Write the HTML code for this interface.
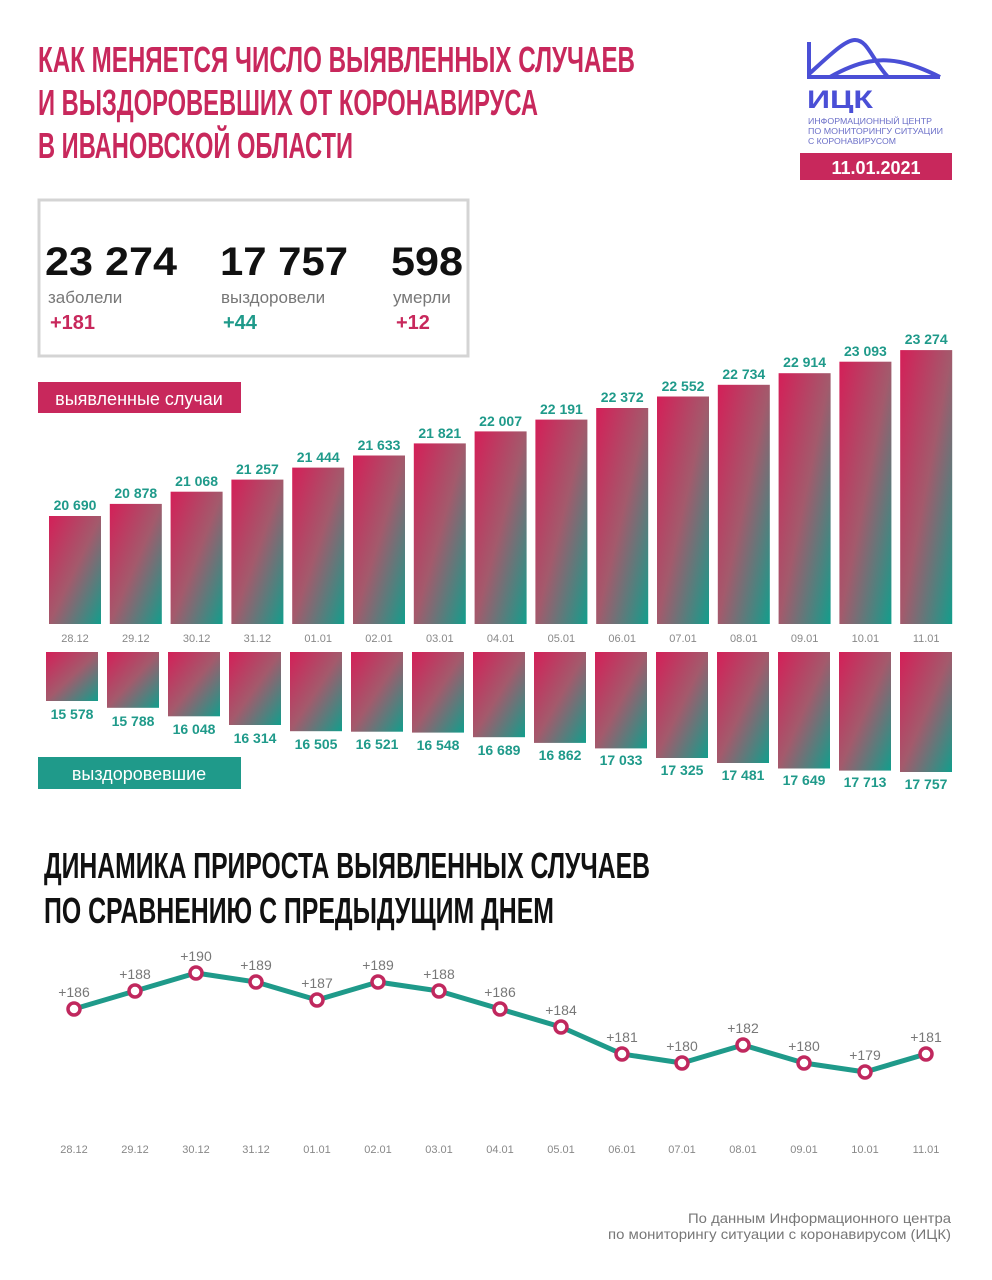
<!DOCTYPE html>
<html><head><meta charset="utf-8"><style>
html,body{margin:0;padding:0;background:#fff;}
svg{display:block;font-family:"Liberation Sans",sans-serif;}
</style></head><body>
<svg width="992" height="1280" viewBox="0 0 992 1280" xmlns="http://www.w3.org/2000/svg">
<defs>
<linearGradient id="g" x1="0" y1="0" x2="1" y2="1">
<stop offset="0" stop-color="#d41f58"/><stop offset="0.5" stop-color="#a35a6c"/><stop offset="1" stop-color="#129e8c"/>
</linearGradient>
</defs>
<g font-weight="bold" fill="#c8285c" font-size="36">
<text x="38" y="72" textLength="597" lengthAdjust="spacingAndGlyphs">КАК МЕНЯЕТСЯ ЧИСЛО ВЫЯВЛЕННЫХ СЛУЧАЕВ</text>
<text x="38" y="115" textLength="500" lengthAdjust="spacingAndGlyphs">И ВЫЗДОРОВЕВШИХ ОТ КОРОНАВИРУСА</text>
<text x="38" y="158" textLength="315" lengthAdjust="spacingAndGlyphs">В ИВАНОВСКОЙ ОБЛАСТИ</text>
</g>
<g fill="none" stroke="#4a4fd6" stroke-width="4">
<path d="M809 42 L809 77 L940 77"/>
<path d="M809 74 C830 55 845 40 855 40 C868 40 872 60 888 77"/>
<path d="M830 77 C860 60 880 58 900 62 C915 65 930 72 940 77"/>
</g>
<text x="807" y="108" font-size="25" font-weight="bold" fill="#4a4fd6" textLength="66" lengthAdjust="spacingAndGlyphs">ИЦК</text>
<g font-size="8.5" fill="#6b6fc8">
<text x="808" y="124" textLength="124" lengthAdjust="spacingAndGlyphs">ИНФОРМАЦИОННЫЙ ЦЕНТР</text>
<text x="808" y="134" textLength="135" lengthAdjust="spacingAndGlyphs">ПО МОНИТОРИНГУ СИТУАЦИИ</text>
<text x="808" y="144" textLength="88" lengthAdjust="spacingAndGlyphs">С КОРОНАВИРУСОМ</text>
</g>
<rect x="800" y="153" width="152" height="27" fill="#c8285c"/>
<text x="876" y="174" font-size="18" font-weight="bold" fill="#fff" text-anchor="middle">11.01.2021</text>
<rect x="39" y="200" width="429" height="156" fill="#fff" stroke="#d4d4d4" stroke-width="3"/>
<g font-size="40" font-weight="bold" fill="#111">
<text x="45" y="275" textLength="132" lengthAdjust="spacingAndGlyphs">23 274</text>
<text x="220" y="275" textLength="128" lengthAdjust="spacingAndGlyphs">17 757</text>
<text x="391" y="275" textLength="72" lengthAdjust="spacingAndGlyphs">598</text>
</g>
<g font-size="17" fill="#777">
<text x="48" y="303">заболели</text><text x="221" y="303">выздоровели</text><text x="393" y="303">умерли</text>
</g>
<g font-size="20" font-weight="bold">
<text x="50" y="329" fill="#c8285c">+181</text><text x="223" y="329" fill="#1f9a8a">+44</text><text x="396" y="329" fill="#c8285c">+12</text>
</g>
<rect x="38" y="382" width="203" height="31" fill="#c8285c"/>
<text x="139" y="405" font-size="18" fill="#fff" text-anchor="middle">выявленные случаи</text>
<rect x="38" y="757" width="203" height="32" fill="#1f9a8a"/>
<text x="139" y="780" font-size="18" fill="#fff" text-anchor="middle">выздоровевшие</text>
<g fill="url(#g)">
<rect x="49" y="516" width="52" height="108"/>
<rect x="109.8" y="503.9" width="52" height="120.1"/>
<rect x="170.6" y="491.7" width="52" height="132.3"/>
<rect x="231.4" y="479.6" width="52" height="144.4"/>
<rect x="292.2" y="467.6" width="52" height="156.4"/>
<rect x="353" y="455.5" width="52" height="168.5"/>
<rect x="413.8" y="443.4" width="52" height="180.6"/>
<rect x="474.6" y="431.4" width="52" height="192.6"/>
<rect x="535.4" y="419.6" width="52" height="204.4"/>
<rect x="596.2" y="408" width="52" height="216"/>
<rect x="657" y="396.5" width="52" height="227.5"/>
<rect x="717.8" y="384.8" width="52" height="239.2"/>
<rect x="778.6" y="373.2" width="52" height="250.8"/>
<rect x="839.4" y="361.7" width="52" height="262.3"/>
<rect x="900.2" y="350.1" width="52" height="273.9"/>
</g>
<g font-size="14" font-weight="bold" fill="#1f9a8a" text-anchor="middle">
<text x="75" y="510">20 690</text><text x="135.8" y="498">20 878</text><text x="196.6" y="486">21 068</text>
<text x="257.4" y="474">21 257</text><text x="318.2" y="462">21 444</text><text x="379" y="450">21 633</text>
<text x="439.8" y="438">21 821</text><text x="500.6" y="426">22 007</text><text x="561.4" y="414">22 191</text>
<text x="622.2" y="402">22 372</text><text x="683" y="391">22 552</text><text x="743.8" y="379">22 734</text>
<text x="804.6" y="367">22 914</text><text x="865.4" y="356">23 093</text><text x="926.2" y="344">23 274</text>
</g>
<g font-size="11" fill="#888" text-anchor="middle">
<text x="75" y="642">28.12</text><text x="135.8" y="642">29.12</text><text x="196.6" y="642">30.12</text>
<text x="257.4" y="642">31.12</text><text x="318.2" y="642">01.01</text><text x="379" y="642">02.01</text>
<text x="439.8" y="642">03.01</text><text x="500.6" y="642">04.01</text><text x="561.4" y="642">05.01</text>
<text x="622.2" y="642">06.01</text><text x="683" y="642">07.01</text><text x="743.8" y="642">08.01</text>
<text x="804.6" y="642">09.01</text><text x="865.4" y="642">10.01</text><text x="926.2" y="642">11.01</text>
</g>
<g fill="url(#g)">
<rect x="46" y="652" width="52" height="49"/>
<rect x="107" y="652" width="52" height="55.8"/>
<rect x="168" y="652" width="52" height="64.3"/>
<rect x="229" y="652" width="52" height="73"/>
<rect x="290" y="652" width="52" height="79.2"/>
<rect x="351" y="652" width="52" height="79.7"/>
<rect x="412" y="652" width="52" height="80.6"/>
<rect x="473" y="652" width="52" height="85.2"/>
<rect x="534" y="652" width="52" height="90.9"/>
<rect x="595" y="652" width="52" height="96.4"/>
<rect x="656" y="652" width="52" height="106"/>
<rect x="717" y="652" width="52" height="111"/>
<rect x="778" y="652" width="52" height="116.5"/>
<rect x="839" y="652" width="52" height="118.6"/>
<rect x="900" y="652" width="52" height="120"/>
</g>
<g font-size="14" font-weight="bold" fill="#1f9a8a" text-anchor="middle">
<text x="72" y="719">15 578</text><text x="133" y="726">15 788</text><text x="194" y="734">16 048</text>
<text x="255" y="743">16 314</text><text x="316" y="749">16 505</text><text x="377" y="749">16 521</text>
<text x="438" y="750">16 548</text><text x="499" y="755">16 689</text><text x="560" y="760">16 862</text>
<text x="621" y="765">17 033</text><text x="682" y="775">17 325</text><text x="743" y="780">17 481</text>
<text x="804" y="785">17 649</text><text x="865" y="787">17 713</text><text x="926" y="789">17 757</text>
</g>
<g font-weight="bold" fill="#111" font-size="36">
<text x="44" y="878" textLength="606" lengthAdjust="spacingAndGlyphs">ДИНАМИКА ПРИРОСТА ВЫЯВЛЕННЫХ СЛУЧАЕВ</text>
<text x="44" y="923" textLength="510" lengthAdjust="spacingAndGlyphs">ПО СРАВНЕНИЮ С ПРЕДЫДУЩИМ ДНЕМ</text>
</g>
<polyline fill="none" stroke="#1f9a8a" stroke-width="5" stroke-linejoin="round" points="74,1009 135,991 196,973 256,982 317,1000 378,982 439,991 500,1009 561,1027 622,1054 682,1063 743,1045 804,1063 865,1072 926,1054"/>
<g fill="#fff" stroke="#c0285e" stroke-width="3.5">
<circle cx="74" cy="1009" r="6"/><circle cx="135" cy="991" r="6"/><circle cx="196" cy="973" r="6"/>
<circle cx="256" cy="982" r="6"/><circle cx="317" cy="1000" r="6"/><circle cx="378" cy="982" r="6"/>
<circle cx="439" cy="991" r="6"/><circle cx="500" cy="1009" r="6"/><circle cx="561" cy="1027" r="6"/>
<circle cx="622" cy="1054" r="6"/><circle cx="682" cy="1063" r="6"/><circle cx="743" cy="1045" r="6"/>
<circle cx="804" cy="1063" r="6"/><circle cx="865" cy="1072" r="6"/><circle cx="926" cy="1054" r="6"/>
</g>
<g font-size="14" fill="#777" text-anchor="middle">
<text x="74" y="997">+186</text><text x="135" y="979">+188</text><text x="196" y="961">+190</text>
<text x="256" y="970">+189</text><text x="317" y="988">+187</text><text x="378" y="970">+189</text>
<text x="439" y="979">+188</text><text x="500" y="997">+186</text><text x="561" y="1015">+184</text>
<text x="622" y="1042">+181</text><text x="682" y="1051">+180</text><text x="743" y="1033">+182</text>
<text x="804" y="1051">+180</text><text x="865" y="1060">+179</text><text x="926" y="1042">+181</text>
</g>
<g font-size="11" fill="#888" text-anchor="middle">
<text x="74" y="1153">28.12</text><text x="135" y="1153">29.12</text><text x="196" y="1153">30.12</text>
<text x="256" y="1153">31.12</text><text x="317" y="1153">01.01</text><text x="378" y="1153">02.01</text>
<text x="439" y="1153">03.01</text><text x="500" y="1153">04.01</text><text x="561" y="1153">05.01</text>
<text x="622" y="1153">06.01</text><text x="682" y="1153">07.01</text><text x="743" y="1153">08.01</text>
<text x="804" y="1153">09.01</text><text x="865" y="1153">10.01</text><text x="926" y="1153">11.01</text>
</g>
<g font-size="14" fill="#777">
<text x="688" y="1223" textLength="263" lengthAdjust="spacingAndGlyphs">По данным Информационного центра</text>
<text x="608" y="1239" textLength="343" lengthAdjust="spacingAndGlyphs">по мониторингу ситуации с коронавирусом (ИЦК)</text>
</g>
</svg>
</body></html>
